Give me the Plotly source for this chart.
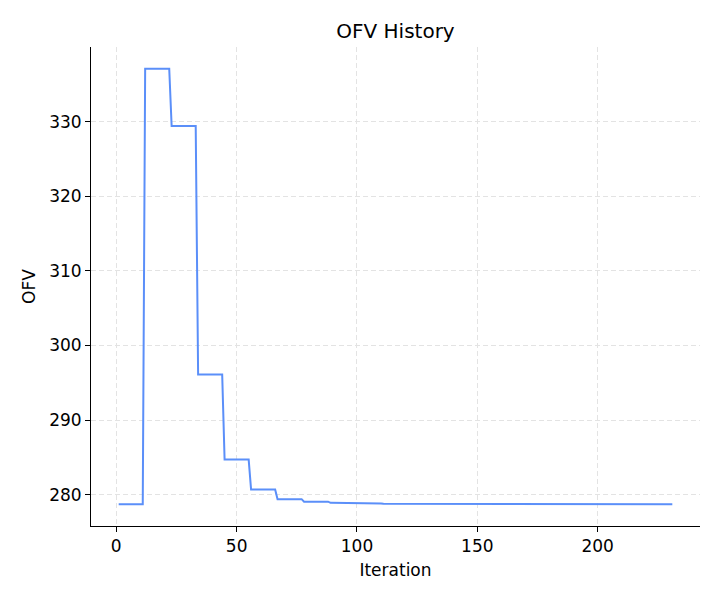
import plotly.graph_objects as go

# Block values (each block spans 11 iterations)
block_values = [278.73, 337.1, 329.4, 296.1, 284.7, 280.7, 279.4, 279.06, 278.9, 278.82, 278.77]
final_value = 278.73
block_len = 11
n_iter = 231

iterations = list(range(1, n_iter + 1))
ofv = []
for it in iterations:
    b = (it - 1) // block_len
    ofv.append(block_values[b] if b < len(block_values) else final_value)

fig = go.Figure()
fig.add_trace(go.Scatter(x=iterations, y=ofv, mode="lines",
                         line=dict(color="#5B8FF9", width=2), showlegend=False))

font = "DejaVu Sans, sans-serif"
axis_common = dict(
    showline=True, linecolor="black", linewidth=1,
    ticks="outside", ticklen=5, tickcolor="black", tickwidth=1,
    showgrid=True, gridcolor="#e3e3e3", griddash="5px,3px", gridwidth=1,
    zeroline=False, tickfont=dict(family=font, size=17, color="black"),
    mirror=False,
)
fig.update_layout(
    width=720, height=600,
    margin=dict(l=91, r=20, t=47, b=74),
    paper_bgcolor="white", plot_bgcolor="white",
    title=dict(text="OFV History", x=0.5493, xanchor="center", y=0.948, yanchor="middle",
               font=dict(family=font, size=20, color="black")),
    font=dict(family=font, color="black"),
)
fig.update_xaxes(range=[-10.5, 242.5], tickvals=[0, 50, 100, 150, 200],
                 title=dict(text="Iteration", font=dict(family=font, size=17, color="black"), standoff=8),
                 **axis_common)
fig.update_yaxes(range=[275.8, 340.0], tickvals=[280, 290, 300, 310, 320, 330],
                 title=dict(text="OFV", font=dict(family=font, size=17, color="black"), standoff=9),
                 **axis_common)
fig.write_html("out.html")
